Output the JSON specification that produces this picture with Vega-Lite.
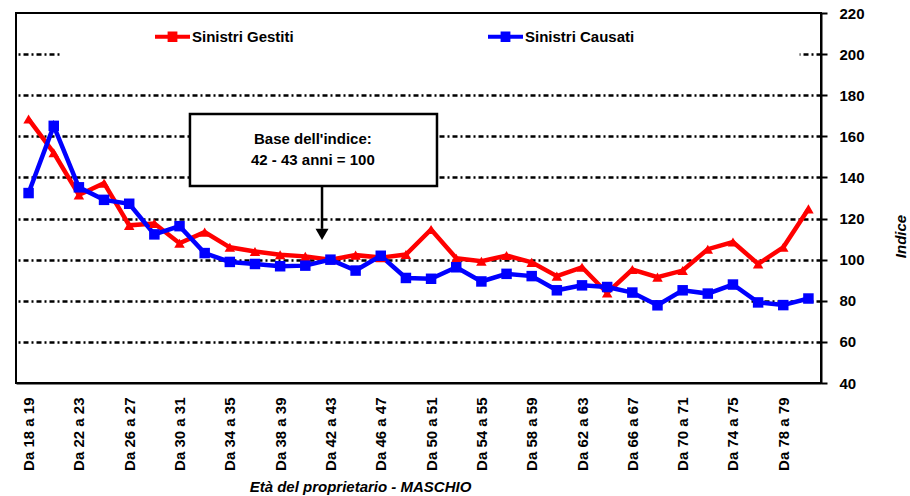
{
  "$schema": "https://vega.github.io/schema/vega-lite/v6.json",
  "width": 805,
  "height": 370,
  "autosize": "none",
  "padding": {"left": 16, "top": 13, "right": 89, "bottom": 113},
  "background": "white",
  "config": {
    "view": {"stroke": "black", "strokeWidth": 2},
    "font": "Liberation Sans"
  },
  "datasets": {
    "indici": [
      {"classe": "Da 18 a 19", "serie": "Sinistri Gestiti", "indice": 168.4},
      {"classe": "Da 20 a 21", "serie": "Sinistri Gestiti", "indice": 152.0},
      {"classe": "Da 22 a 23", "serie": "Sinistri Gestiti", "indice": 131.5},
      {"classe": "Da 24 a 25", "serie": "Sinistri Gestiti", "indice": 137.2},
      {"classe": "Da 26 a 27", "serie": "Sinistri Gestiti", "indice": 116.7},
      {"classe": "Da 28 a 29", "serie": "Sinistri Gestiti", "indice": 117.6},
      {"classe": "Da 30 a 31", "serie": "Sinistri Gestiti", "indice": 108.0},
      {"classe": "Da 32 a 33", "serie": "Sinistri Gestiti", "indice": 113.4},
      {"classe": "Da 34 a 35", "serie": "Sinistri Gestiti", "indice": 106.0},
      {"classe": "Da 36 a 37", "serie": "Sinistri Gestiti", "indice": 104.0},
      {"classe": "Da 38 a 39", "serie": "Sinistri Gestiti", "indice": 102.4},
      {"classe": "Da 40 a 41", "serie": "Sinistri Gestiti", "indice": 101.6},
      {"classe": "Da 42 a 43", "serie": "Sinistri Gestiti", "indice": 100.0},
      {"classe": "Da 44 a 45", "serie": "Sinistri Gestiti", "indice": 102.2},
      {"classe": "Da 46 a 47", "serie": "Sinistri Gestiti", "indice": 101.0},
      {"classe": "Da 48 a 49", "serie": "Sinistri Gestiti", "indice": 102.5},
      {"classe": "Da 50 a 51", "serie": "Sinistri Gestiti", "indice": 114.7},
      {"classe": "Da 52 a 53", "serie": "Sinistri Gestiti", "indice": 100.7},
      {"classe": "Da 54 a 55", "serie": "Sinistri Gestiti", "indice": 99.2},
      {"classe": "Da 56 a 57", "serie": "Sinistri Gestiti", "indice": 102.0},
      {"classe": "Da 58 a 59", "serie": "Sinistri Gestiti", "indice": 98.7},
      {"classe": "Da 60 a 61", "serie": "Sinistri Gestiti", "indice": 92.0},
      {"classe": "Da 62 a 63", "serie": "Sinistri Gestiti", "indice": 96.3},
      {"classe": "Da 64 a 65", "serie": "Sinistri Gestiti", "indice": 83.8},
      {"classe": "Da 66 a 67", "serie": "Sinistri Gestiti", "indice": 95.2},
      {"classe": "Da 68 a 69", "serie": "Sinistri Gestiti", "indice": 91.5},
      {"classe": "Da 70 a 71", "serie": "Sinistri Gestiti", "indice": 94.7},
      {"classe": "Da 72 a 73", "serie": "Sinistri Gestiti", "indice": 105.1},
      {"classe": "Da 74 a 75", "serie": "Sinistri Gestiti", "indice": 108.6},
      {"classe": "Da 76 a 77", "serie": "Sinistri Gestiti", "indice": 97.9},
      {"classe": "Da 78 a 79", "serie": "Sinistri Gestiti", "indice": 106.0},
      {"classe": "Oltre 80", "serie": "Sinistri Gestiti", "indice": 124.7},
      {"classe": "Da 18 a 19", "serie": "Sinistri Causati", "indice": 132.4},
      {"classe": "Da 20 a 21", "serie": "Sinistri Causati", "indice": 165.1},
      {"classe": "Da 22 a 23", "serie": "Sinistri Causati", "indice": 135.2},
      {"classe": "Da 24 a 25", "serie": "Sinistri Causati", "indice": 129.1},
      {"classe": "Da 26 a 27", "serie": "Sinistri Causati", "indice": 127.2},
      {"classe": "Da 28 a 29", "serie": "Sinistri Causati", "indice": 112.3},
      {"classe": "Da 30 a 31", "serie": "Sinistri Causati", "indice": 116.3},
      {"classe": "Da 32 a 33", "serie": "Sinistri Causati", "indice": 103.2},
      {"classe": "Da 34 a 35", "serie": "Sinistri Causati", "indice": 98.9},
      {"classe": "Da 36 a 37", "serie": "Sinistri Causati", "indice": 97.9},
      {"classe": "Da 38 a 39", "serie": "Sinistri Causati", "indice": 96.8},
      {"classe": "Da 40 a 41", "serie": "Sinistri Causati", "indice": 97.1},
      {"classe": "Da 42 a 43", "serie": "Sinistri Causati", "indice": 100.0},
      {"classe": "Da 44 a 45", "serie": "Sinistri Causati", "indice": 94.7},
      {"classe": "Da 46 a 47", "serie": "Sinistri Causati", "indice": 101.9},
      {"classe": "Da 48 a 49", "serie": "Sinistri Causati", "indice": 91.1},
      {"classe": "Da 50 a 51", "serie": "Sinistri Causati", "indice": 90.7},
      {"classe": "Da 52 a 53", "serie": "Sinistri Causati", "indice": 96.3},
      {"classe": "Da 54 a 55", "serie": "Sinistri Causati", "indice": 89.4},
      {"classe": "Da 56 a 57", "serie": "Sinistri Causati", "indice": 93.1},
      {"classe": "Da 58 a 59", "serie": "Sinistri Causati", "indice": 92.0},
      {"classe": "Da 60 a 61", "serie": "Sinistri Causati", "indice": 85.1},
      {"classe": "Da 62 a 63", "serie": "Sinistri Causati", "indice": 87.5},
      {"classe": "Da 64 a 65", "serie": "Sinistri Causati", "indice": 86.7},
      {"classe": "Da 66 a 67", "serie": "Sinistri Causati", "indice": 84.0},
      {"classe": "Da 68 a 69", "serie": "Sinistri Causati", "indice": 77.8},
      {"classe": "Da 70 a 71", "serie": "Sinistri Causati", "indice": 85.1},
      {"classe": "Da 72 a 73", "serie": "Sinistri Causati", "indice": 83.5},
      {"classe": "Da 74 a 75", "serie": "Sinistri Causati", "indice": 87.9},
      {"classe": "Da 76 a 77", "serie": "Sinistri Causati", "indice": 79.2},
      {"classe": "Da 78 a 79", "serie": "Sinistri Causati", "indice": 77.9},
      {"classe": "Oltre 80", "serie": "Sinistri Causati", "indice": 81.1}
    ]
  },
  "layer": [
    {
      "layer": [
        {
          "data": {"values": [{"da": 20.5, "a": 79.3, "min": 197, "max": 214}]},
          "mark": {"type": "rect", "fill": "white", "stroke": null},
          "encoding": {
            "x": {"field": "da", "type": "quantitative", "scale": {"domain": [17, 81], "nice": false, "zero": false}, "axis": null},
            "x2": {"field": "a"},
            "y": {"field": "min", "type": "quantitative", "scale": {"domain": [40, 220], "nice": false, "zero": false}},
            "y2": {"field": "max"}
          }
        },
        {
          "data": {"values": [{"da": 30.83, "a": 50.47, "min": 135.8, "max": 170.9}]},
          "mark": {"type": "rect", "fill": "white", "stroke": "black", "strokeWidth": 2.5},
          "encoding": {
            "x": {"field": "da", "type": "quantitative", "scale": {"domain": [17, 81], "nice": false, "zero": false}, "axis": null},
            "x2": {"field": "a"},
            "y": {"field": "min", "type": "quantitative", "scale": {"domain": [40, 220], "nice": false, "zero": false}},
            "y2": {"field": "max"}
          }
        },
        {
          "data": {"values": [
            {"eta": 40.6, "livello": 158.7, "testo": "Base dell'indice:"},
            {"eta": 40.6, "livello": 148.5, "testo": "42 - 43 anni = 100"}
          ]},
          "mark": {"type": "text", "font": "Liberation Sans", "fontWeight": "bold", "fontSize": 15, "color": "black", "align": "center", "baseline": "middle"},
          "encoding": {
            "x": {"field": "eta", "type": "quantitative", "scale": {"domain": [17, 81], "nice": false, "zero": false}, "axis": null},
            "y": {"field": "livello", "type": "quantitative", "scale": {"domain": [40, 220], "nice": false, "zero": false}},
            "text": {"field": "testo"}
          }
        },
        {
          "data": {"values": [{"eta": 41.33, "da": 135.8, "a": 115}]},
          "mark": {"type": "rule", "color": "black", "strokeWidth": 2.5},
          "encoding": {
            "x": {"field": "eta", "type": "quantitative", "scale": {"domain": [17, 81], "nice": false, "zero": false}, "axis": null},
            "y": {"field": "da", "type": "quantitative", "scale": {"domain": [40, 220], "nice": false, "zero": false}},
            "y2": {"field": "a"}
          }
        },
        {
          "data": {"values": [{"eta": 41.33, "livello": 112.3}]},
          "mark": {"type": "point", "shape": "triangle-down", "filled": true, "color": "black", "size": 169, "opacity": 1},
          "encoding": {
            "x": {"field": "eta", "type": "quantitative", "scale": {"domain": [17, 81], "nice": false, "zero": false}, "axis": null},
            "y": {"field": "livello", "type": "quantitative", "scale": {"domain": [40, 220], "nice": false, "zero": false}}
          }
        }
      ]
    },
    {
      "data": {"name": "indici"},
      "encoding": {
        "x": {
          "field": "classe", "type": "ordinal", "sort": null,
          "axis": {
            "title": "Età del proprietario - MASCHIO",
            "values": ["Da 18 a 19", "Da 22 a 23", "Da 26 a 27", "Da 30 a 31", "Da 34 a 35", "Da 38 a 39", "Da 42 a 43", "Da 46 a 47", "Da 50 a 51", "Da 54 a 55", "Da 58 a 59", "Da 62 a 63", "Da 66 a 67", "Da 70 a 71", "Da 74 a 75", "Da 78 a 79"],
            "labelAngle": 270,
            "labelFont": "Liberation Sans", "labelFontWeight": "bold", "labelFontSize": 15, "labelColor": "black",
            "labelPadding": 14, "labelOverlap": false, "labelBound": false,
            "ticks": false, "grid": false,
            "domainColor": "black", "domainWidth": 2,
            "titleFont": "Liberation Sans", "titleFontStyle": "italic", "titleFontWeight": "bold", "titleFontSize": 15, "titleColor": "black",
            "titleX": 344, "titleY": 103, "titleAlign": "center", "titleBaseline": "middle", "titleAnchor": "start"
          }
        },
        "y": {
          "field": "indice", "type": "quantitative",
          "scale": {"domain": [40, 220], "nice": false, "zero": false},
          "axis": {
            "orient": "right",
            "title": "Indice",
            "values": [40, 60, 80, 100, 120, 140, 160, 180, 200, 220],
            "labelFont": "Liberation Sans", "labelFontWeight": "bold", "labelFontSize": 15, "labelColor": "black",
            "labelPadding": 12, "labelAlign": "left", "labelBaseline": "middle",
            "tickColor": "black", "tickWidth": 2, "tickSize": 6,
            "domainColor": "black", "domainWidth": 2,
            "grid": true,
            "gridColor": {"condition": {"test": "datum.value === 220 || datum.value === 40", "value": "transparent"}, "value": "black"},
            "gridWidth": 2.5, "gridDash": [5, 3, 2, 3],
            "titleFont": "Liberation Sans", "titleFontStyle": "italic", "titleFontWeight": "bold", "titleFontSize": 15, "titleColor": "black",
            "titleAngle": 270, "titleX": 79, "titleY": 223, "titleAlign": "center", "titleBaseline": "middle"
          }
        },
        "color": {
          "field": "serie", "type": "nominal",
          "scale": {"domain": ["Sinistri Gestiti", "Sinistri Causati"], "range": ["#ff0000", "#0000ff"]},
          "legend": {
            "title": null,
            "orient": "none", "legendX": 139, "legendY": 6,
            "direction": "horizontal", "columns": 2, "columnPadding": 194,
            "padding": 0,
            "symbolType": "M-1,-0.12L1,-0.12L1,0.12L-1,0.12Z M-0.28,-0.3L0.28,-0.3L0.28,0.3L-0.28,0.3Z",
            "symbolSize": 1225, "symbolStrokeWidth": 0,
            "labelFont": "Liberation Sans", "labelFontWeight": "bold", "labelFontSize": 15, "labelColor": "black", "labelOffset": 2,
            "encode": {"symbols": {"update": {
              "fill": {"scale": "color", "field": "value"},
              "stroke": {"value": "transparent"}
            }}}
          }
        }
      },
      "layer": [
        {"mark": {"type": "line", "strokeWidth": 4.5}},
        {
          "mark": {"type": "point", "filled": true, "opacity": 1, "size": 110},
          "encoding": {
            "shape": {"condition": {"test": "datum.serie === 'Sinistri Gestiti'", "value": "triangle-up"}, "value": "square"}
          }
        }
      ]
    }
  ],
  "resolve": {"scale": {"x": "independent"}}
}
